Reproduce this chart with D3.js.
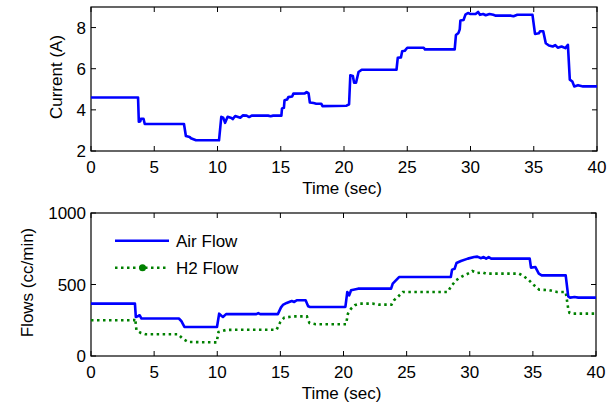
<!DOCTYPE html>
<html>
<head>
<meta charset="utf-8">
<script src="https://cdn.jsdelivr.net/npm/d3@7"></script>
<style>
  body { margin: 0; background: #fff; }
  svg text { font-family: "Liberation Sans", Arial, sans-serif; font-size: 17px; fill: #000; }
</style>
</head>
<body>
<div id="chart"></div>
<script>
// current trace (time s, amps)
const currentData = [
  [0,4.6],[3.72,4.6],[3.78,3.42],[3.9,3.45],[3.95,3.57],[4.15,3.57],[4.25,3.31],[7.35,3.31],
  [7.5,2.73],[7.8,2.68],[7.9,2.62],[8.3,2.52],[10.12,2.52],[10.3,3.66],[10.45,3.62],[10.6,3.37],
  [10.8,3.66],[11.1,3.6],[11.2,3.55],[11.4,3.7],[11.8,3.62],[12.0,3.73],[12.3,3.72],[12.5,3.65],
  [12.7,3.72],[14.0,3.72],[14.2,3.69],[14.4,3.72],[15.05,3.72],[15.1,4.07],[15.25,4.1],[15.3,4.47],
  [15.5,4.5],[15.6,4.62],[15.9,4.65],[16.0,4.79],[16.9,4.8],[17.05,4.87],[17.2,4.8],[17.3,4.36],
  [17.6,4.33],[17.8,4.3],[18.2,4.3],[18.3,4.18],[20.2,4.2],[20.4,4.27],[20.5,5.68],[20.7,5.65],
  [20.8,5.32],[20.95,5.32],[21.15,5.84],[21.4,5.95],[24.15,5.95],[24.25,6.53],[24.5,6.55],[24.6,6.85],
  [24.8,6.87],[25.0,7.02],[26.3,7.02],[26.4,6.94],[28.75,6.94],[28.85,7.64],[29.05,7.74],[29.15,7.91],
  [29.2,8.34],[29.45,8.37],[29.6,8.63],[29.8,8.71],[30.0,8.66],[30.4,8.66],[30.6,8.76],[30.75,8.62],
  [31.0,8.66],[31.2,8.6],[31.5,8.66],[31.8,8.62],[32.0,8.58],[33.2,8.58],[33.4,8.55],[33.7,8.62],
  [34.9,8.62],[35.1,7.69],[35.4,7.72],[35.5,7.82],[35.75,7.82],[35.95,7.24],[36.2,7.13],[36.5,7.08],
  [36.7,7.15],[36.9,7.02],[37.2,7.08],[37.5,7.0],[37.7,7.16],[37.85,5.47],[38.05,5.38],[38.2,5.14],
  [38.5,5.2],[38.9,5.14],[40,5.14]
];

// air flow (cc/min)
const airFlow = [
  [0,366],[3.48,366],[3.55,273],[3.75,280],[3.85,285],[4.0,262],[6.96,262],[7.15,245],[7.4,203],
  [9.98,203],[10.15,296],[10.35,280],[10.45,273],[10.7,293],[13.1,293],[13.25,300],[13.4,293],
  [14.8,293],[15.05,340],[15.2,357],[15.5,371],[15.9,385],[16.1,378],[16.3,390],[17.0,390],
  [17.2,348],[17.35,343],[20.15,343],[20.3,448],[20.45,424],[20.6,460],[21.15,471],[23.77,471],
  [23.9,506],[24.15,529],[24.4,552],[28.5,552],[28.6,604],[28.8,610],[28.95,650],[29.3,664],
  [29.85,681],[30.35,692],[30.6,695],[30.9,684],[31.1,692],[31.3,681],[31.5,692],[31.7,681],
  [34.75,681],[34.85,618],[35.2,622],[35.47,576],[35.7,564],[37.6,564],[37.8,417],[37.95,408],
  [38.3,412],[38.6,408],[40,408]
];

// h2 flow (cc/min)
const h2Flow = [
  [0,250],[3.4,250],[3.5,262],[3.6,180],[3.95,161],[4.3,152],[6.9,152],[7.25,122],[7.7,98],
  [9.95,95],[10.1,168],[10.7,182],[12,184],[14.7,184],[15.0,238],[15.3,268],[16.0,277],[17.1,277],
  [17.3,231],[17.8,222],[20.2,222],[20.35,296],[20.6,331],[20.9,355],[21.3,366],[22.3,366],
  [22.8,359],[23.8,359],[24.0,390],[24.3,413],[24.7,448],[28.25,448],[28.5,483],[28.9,529],
  [29.4,557],[29.96,580],[30.2,594],[30.6,580],[31.0,585],[31.3,576],[33.9,576],[34.3,557],
  [34.7,529],[35.1,494],[35.5,464],[36.3,460],[36.9,448],[37.6,448],[37.8,331],[37.9,301],
  [38.2,296],[40,296]
];

const xTicks = [0, 5, 10, 15, 20, 25, 30, 35, 40];
const currentTicks = [2, 4, 6, 8];
const flowTicks = [0, 500, 1000];
const legendNames = ["Air Flow", "H2 Flow"];

const W = 616, H = 405;
const svg = d3.select("#chart").append("svg").attr("width", W).attr("height", H);

function drawPanel(box, yDomain, yTicks, yLabel, labelX, id) {
  const x = d3.scaleLinear().domain([0, 40]).range([box.left, box.right]);
  const y = d3.scaleLinear().domain(yDomain).range([box.bottom, box.top]);
  const g = svg.append("g");

  svg.append("clipPath").attr("id", id)
    .append("rect")
    .attr("x", box.left).attr("y", box.top)
    .attr("width", box.right - box.left).attr("height", box.bottom - box.top);

  // ticks inward on all four sides
  const tk = 5;
  xTicks.forEach(t => {
    g.append("line").attr("x1", x(t)).attr("x2", x(t)).attr("y1", box.bottom).attr("y2", box.bottom - tk).attr("stroke", "#000");
    g.append("line").attr("x1", x(t)).attr("x2", x(t)).attr("y1", box.top).attr("y2", box.top + tk).attr("stroke", "#000");
    g.append("text").attr("x", x(t)).attr("y", box.bottom + 22).attr("text-anchor", "middle").text(t);
  });
  yTicks.forEach(t => {
    g.append("line").attr("x1", box.left).attr("x2", box.left + tk).attr("y1", y(t)).attr("y2", y(t)).attr("stroke", "#000");
    g.append("line").attr("x1", box.right).attr("x2", box.right - tk).attr("y1", y(t)).attr("y2", y(t)).attr("stroke", "#000");
    g.append("text").attr("x", box.left - 5).attr("y", y(t)).attr("dy", "0.36em").attr("text-anchor", "end").text(t);
  });

  g.append("rect")
    .attr("x", box.left).attr("y", box.top)
    .attr("width", box.right - box.left).attr("height", box.bottom - box.top)
    .attr("fill", "none").attr("stroke", "#000").attr("stroke-width", 1.2);

  g.append("text")
    .attr("x", (box.left + box.right) / 2 - 2).attr("y", box.bottom + 43)
    .attr("text-anchor", "middle").text("Time (sec)");

  g.append("text")
    .attr("transform", `translate(${labelX},${(box.top + box.bottom) / 2 - 2}) rotate(-90)`)
    .attr("text-anchor", "middle").text(yLabel);

  return { x, y, g };
}

const topPanel = drawPanel({ left: 91, right: 597, top: 7, bottom: 151 }, [2, 9], currentTicks, "Current (A)", 62, "clipTop");
const botPanel = drawPanel({ left: 91, right: 596, top: 213, bottom: 356 }, [0, 1000], flowTicks, "Flows (cc/min)", 33, "clipBot");

const lineTop = d3.line().x(d => topPanel.x(d[0])).y(d => topPanel.y(d[1]));
const lineBot = d3.line().x(d => botPanel.x(d[0])).y(d => botPanel.y(d[1]));

svg.append("path").datum(currentData)
  .attr("clip-path", "url(#clipTop)")
  .attr("d", lineTop).attr("fill", "none")
  .attr("stroke", "#0000ff").attr("stroke-width", 2.6).attr("stroke-linejoin", "round");

svg.append("path").datum(h2Flow)
  .attr("clip-path", "url(#clipBot)")
  .attr("d", lineBot).attr("fill", "none")
  .attr("stroke", "#008000").attr("stroke-width", 2.6).attr("stroke-dasharray", "2.5,3.5");

svg.append("path").datum(airFlow)
  .attr("clip-path", "url(#clipBot)")
  .attr("d", lineBot).attr("fill", "none")
  .attr("stroke", "#0000ff").attr("stroke-width", 2.6).attr("stroke-linejoin", "round");

// legend, no box
const leg = svg.append("g");
leg.append("line").attr("x1", 115).attr("x2", 169).attr("y1", 240.7).attr("y2", 240.7)
  .attr("stroke", "#0000ff").attr("stroke-width", 2.6);
leg.append("text").attr("x", 176).attr("y", 241).attr("dy", "0.36em").text(legendNames[0]);
leg.append("line").attr("x1", 115).attr("x2", 169).attr("y1", 267.7).attr("y2", 267.7)
  .attr("stroke", "#008000").attr("stroke-width", 2.6).attr("stroke-dasharray", "2.5,3.5");
leg.append("circle").attr("cx", 142.5).attr("cy", 267.7).attr("r", 3.5).attr("fill", "#008000");
leg.append("text").attr("x", 176).attr("y", 268).attr("dy", "0.36em").text(legendNames[1]);
</script>
</body>
</html>
